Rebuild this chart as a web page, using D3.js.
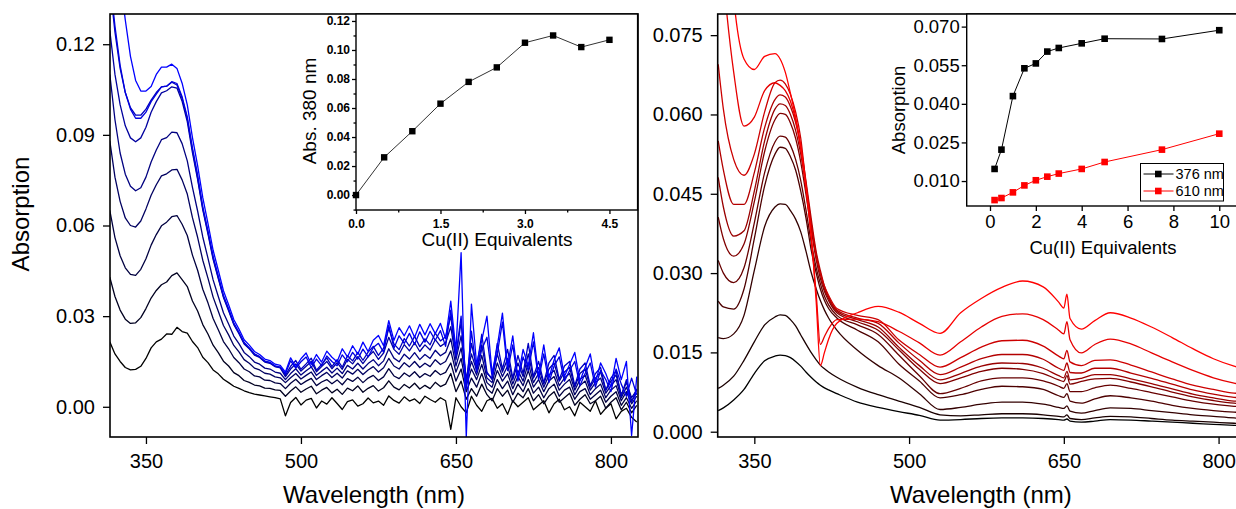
<!DOCTYPE html>
<html>
<head>
<meta charset="utf-8">
<script src="https://cdn.jsdelivr.net/npm/d3@7"></script>
<style>
  body { margin: 0; background: #fff; }
  svg { display: block; font-family: "Liberation Sans", Arial, sans-serif; }
</style>
</head>
<body>
<script>
// ---------- Left panel: spectra, 0.5 to 4.5 eq (values in 1e-3 absorbance) ----------
const nmLeft = [315,320,325,330,335,340,345,350,355,360,365,370,375,380,385,390,395,400,405,410,415,420,425,430,435,440,445,450,455,460,465,470,475,480,
  485,490,495,500,505,510,515,520,525,530,535,540,545,550,555,560,565,570,575,580,585,590,595,600,605,610,615,620,625,630,635,640,645,650,655,660,
  665,670,675,680,685,690,695,700,705,710,715,720,725,730,735,740,745,750,755,760,765,770,775,780,785,790,795,800,805,810,815,820,825];

const left05 = [21.5,17.5,15.0,13.0,12.2,12.4,13.4,16.0,19.5,21.5,22.4,24.1,24.0,26.3,24.9,24.4,21.6,19.6,16.4,14.6,12.2,10.9,9.1,8.0,6.8,6.1,5.3,4.7,4.2,3.9,3.6,3.3,3.0,2.6,
  -3.0,1.4,3.1,0.6,2.2,2.8,-0.4,1.9,0.9,3.0, 1.1,-0.9,1.7,2.3,0.2,1.0,2.9,1.3,1.9,0.5, 3.6,2.1,1.2,3.3,1.9,2.6,1.1,3.5,2.4,1.5,
  3.0,2.0,-7.5,3.0,0.0,-2.0,3.5,0.5,-1.5,2.0, 2.8,-0.5,1.0,-2.5,2.0,0.0,1.5,3.0,-1.0,0.5, 2.0,-2.0,1.0,2.5,-1.0,0.0,-3.0,1.5,0.0,-1.5,
  2.0,-2.5,-0.5,1.0,-4.0,-1.5,-0.5,-3.5,-5.0];
const left10 = [42.9,36.5,32.0,29.0,27.6,27.8,29.5,32.5,36.0,38.5,40.4,41.3,43.4,44.3,42.1,39.8,35.0,31.7,27.2,24.1,20.4,17.9,15.1,13.5,11.3,10.3,8.7,8.1,7.2,6.9,6.2,6.1,5.6,5.4,
  3.5,5.2,6.6,4.8,5.9,6.8,4.3,5.5,6.4,4.6, 5.8,4.1,6.2,5.3,6.9,4.8,6.1,7.0,5.2,6.3, 8.6,6.5,5.6,7.4,6.2,7.8,5.9,7.1,6.0,8.1,
  6.7,7.5,11.0,5.0,8.5,2.5,6.0,3.5,7.5,4.0, 2.0,6.0,3.5,5.5,1.5,4.5,3.0,6.0,2.0,4.0, 1.0,3.5,5.0,1.5,3.0,4.5,0.5,2.5,4.0,1.0,
  2.0,3.5,-0.5,1.5,3.0,-1.0,1.5,-2.0,0.5];
const left15 = [65.0,56.0,50.0,46.0,43.8,43.5,45.5,49.0,53.5,57.0,59.9,61.1,62.9,63.3,60.4,56.7,50.2,45.2,38.9,34.4,29.2,25.5,21.6,19.2,16.3,14.6,12.5,11.6,10.2,9.9,8.8,8.7,7.9,7.7,
  6.0,7.8,9.1,7.4,8.5,9.4,7.0,8.2,9.0,7.6, 8.9,7.3,9.3,8.4,9.8,8.0,9.5,10.4,8.7,9.9, 12.6,10.2,9.3,11.2,10.0,11.6,9.7,11.0,10.1,12.0,
  10.6,11.4,14.5,8.5,12.5,5.0,9.5,6.5,11.0,6.0, 4.5,9.0,6.0,8.5,4.0,7.5,5.0,9.0,4.5,6.5, 3.0,6.0,7.5,3.5,5.5,6.5,2.5,5.0,6.0,2.5,
  4.0,5.5,1.5,3.5,5.0,0.5,3.0,-0.5,2.0];
const left20 = [88.0,76.0,68.0,62.5,60.0,59.5,61.5,65.5,70.0,73.5,76.4,77.1,78.4,78.6,75.1,70.4,62.6,56.1,48.5,42.6,36.3,31.6,26.9,23.8,20.3,18.2,15.6,14.4,12.8,12.2,11.1,10.8,9.9,9.6,
  8.0,9.6,11.0,9.2,10.4,11.5,9.0,10.3,11.4,9.7, 11.1,9.5,11.9,10.8,12.4,10.7,12.2,13.3,11.5,12.9, 16.0,13.5,12.5,14.6,13.2,15.0,13.0,14.4,13.3,15.6,
  14.0,15.0,18.5,11.5,16.0,7.0,12.5,9.0,14.0,8.0, 6.5,12.0,8.5,11.0,6.0,10.0,7.0,12.0,6.5,9.0, 5.0,8.5,10.0,5.5,7.5,9.0,4.0,7.0,8.5,4.0,
  6.0,7.5,3.0,5.5,7.0,2.0,5.0,1.0,3.5];
const left25 = [110,95,84,77,73,71.5,72.5,76.0,81.0,85.0,88.4,89.1,90.9,90.7,87.1,81.4,72.6,64.8,56.2,49.2,42.0,36.5,31.1,27.4,23.4,20.9,18.0,16.6,14.8,14.1,12.8,12.5,11.5,11.1,
  9.0,11.0,12.6,10.5,11.9,13.2,10.4,11.8,13.1,11.2, 12.8,11.0,13.7,12.5,14.4,12.5,14.3,15.6,13.6,15.2, 19.2,16.1,14.9,17.4,15.8,17.9,15.6,17.3,16.0,18.7,
  16.9,18.0,22.5,13.5,19.5,8.5,15.0,10.5,17.0,9.5, 8.0,14.5,10.0,13.5,7.5,12.0,8.5,14.5,8.0,11.0, 6.5,10.5,12.0,7.0,9.5,11.0,5.5,9.0,10.5,5.5,
  8.0,9.5,4.5,7.0,9.0,3.0,6.5,2.0,4.5];
const left30 = [124.5,110,100,93,89,87.7,89,92.5,97.5,101,103.9,104.6,105.9,105.5,101.1,94.4,84.1,75.3,65.2,57.2,48.8,42.4,36.2,31.8,27.2,24.2,20.8,19.2,17.1,16.3,14.8,14.4,13.3,12.9,
  10.0,12.5,14.2,11.8,13.4,15.0,11.6,13.3,15.0,12.6, 14.6,12.4,15.7,14.2,16.6,14.3,16.6,18.3,15.7,17.8, 23.0,19.0,17.4,20.6,18.5,21.2,18.3,20.5,18.8,22.2,
  20.0,21.2,26.5,15.5,23.5,9.0,17.5,12.0,20.5,11.0, 9.5,17.5,11.5,16.0,9.0,14.5,10.0,17.5,9.5,13.0, 7.5,12.5,14.5,8.5,11.5,13.0,6.5,11.0,12.5,6.5,
  9.5,11.5,5.5,8.5,10.5,4.0,8.0,3.0,5.5];
const left35 = [140,124,112,104,99,96.5,96.5,98.5,101.5,104,105.9,106.1,107.4,106.5,102.1,95.4,85.1,75.8,65.7,57.7,49.3,42.8,36.5,32.1,27.5,24.5,21.1,19.4,17.4,16.5,15.0,14.6,13.4,13.0,
  10.5,13.4,15.3,12.4,14.2,16.1,12.1,14.0,16.2,13.3, 15.6,13.1,16.9,15.2,18.0,15.4,18.1,20.0,17.0,19.4, 26.0,20.8,18.9,22.6,20.1,23.3,19.9,22.5,20.5,24.4,
  21.8,23.2,30.0,16.5,28.0,8.5,21.0,13.0,24.0,11.5, 9.0,21.0,12.5,19.0,9.5,17.0,11.0,21.0,10.0,15.0, 8.0,14.5,17.0,9.0,13.5,15.0,7.0,12.5,14.5,7.0,
  11.0,13.0,5.5,9.5,12.0,3.5,9.0,1.5,6.0];
const left40 = [142,126,113,104,98.5,95.5,95.5,97.5,101,103.5,105.9,106.1,107.6,107,102.6,95.9,85.6,76.8,66.2,58.2,49.8,43.2,36.8,32.4,27.7,24.6,21.3,19.5,17.5,16.6,15.1,14.7,13.5,13.1,
  11.0,15.2,12.8,14.9,16.5,13.0,15.8,13.6,16.8,15.0, 13.6,17.2,14.9,18.0,15.8,19.1,16.5,19.6,21.0,18.0, 27.0,19.4,23.5,21.0,24.3,20.6,24.8,21.4,25.0,22.0,
  25.2,20.0,32.0,17.0,30.0,6.0,25.0,11.5,19.0,23.0, 10.0,17.5,28.0,12.0,20.5,8.5,16.5,12.0,21.5,9.0, 17.5,8.0,13.5,16.5,8.5,12.0,15.0,7.0,11.0,14.5,
  6.5,12.0,9.0,5.0,12.5,7.5,3.5,9.5,4.0];
const left45 = [180,160,142,128,116,108,104.5,104.5,106,110,112.4,112.4,113.4,112,107.1,99.9,89.1,79.8,69.2,60.7,51.8,45.2,38.4,33.8,28.9,25.7,22.2,20.4,18.3,17.3,15.8,15.3,14.1,13.7,
  11.5,16.2,13.2,15.9,17.8,14.0,17.3,14.8,18.4,16.4, 14.9,19.2,16.5,20.2,17.4,21.4,18.3,22.0,23.6,20.2, 28.5,22.0,26.2,23.5,26.8,23.0,27.3,23.8,27.5,24.2,
  27.6,22.5,35.0,18.5,51.0,-10.0,34.0,14.0,22.0,30.0, 11.0,20.0,31.0,13.5,23.5,9.5,19.0,13.5,24.5,10.0, 20.5,9.5,15.5,19.5,10.0,14.0,18.0,8.5,13.0,17.5,
  8.0,14.5,11.0,6.5,16.0,9.0,15.0,-9.5,10.0];

const leftSpectra = [left05, left10, left15, left20, left25, left30, left35, left40, left45];
const leftColors = ['#000000','#000020','#000040','#000060','#000080','#00009f','#0000bf','#0000df','#0000ff'];

// Left inset: absorbance at 380 nm
const eqLeft = [0, 0.5, 1, 1.5, 2, 2.5, 3, 3.5, 4, 4.5];
const abs380 = [0.000, 0.026, 0.044, 0.063, 0.078, 0.088, 0.105, 0.110, 0.102, 0.107];

// ---------- Right panel: spectra (values in 1e-3 absorbance) ----------
const nmRight = [315,320,330,340,350,360,370,375,380,385,390,395,400,405,410,414,418,422,430,450,
  470,490,510,530,550,570,590,610,630,645,650,653,656,667,680,695,715,735,755,775,795,815,826];

const right01 = [4.0,4.5,6.0,8.0,11.0,13.4,14.3,14.5,14.4,14.0,13.3,12.4,11.3,10.3,9.4,8.8,8.3,7.9,7.2,5.6,
  4.6,3.8,3.1,2.2,2.3,2.5,2.6,2.6,2.5,2.3,2.2,2.4,2.0,1.8,2.0,2.3,2.2,2.0,1.8,1.6,1.4,1.2,1.1];
const right02 = [8.2,8.8,10.5,13.5,17.0,20.2,21.7,22.1,22.0,21.2,20.0,18.3,16.6,15.0,13.6,12.6,11.9,11.3,10.3,8.4,
  7.0,5.8,4.6,3.2,3.0,3.2,3.4,3.4,3.2,2.9,2.8,3.2,2.5,2.3,2.6,2.9,2.8,2.5,2.2,2.0,1.8,1.6,1.5];
const right03 = [17.8,17.6,18.5,22.0,30.5,38.8,42.5,43.1,43.0,41.8,40.2,37.8,34.2,30.2,27.0,24.8,23.0,21.5,19.2,15.4,
  12.5,10.2,7.2,4.2,4.6,5.2,5.6,5.6,5.2,4.6,4.4,4.9,3.9,3.5,4.0,4.5,4.4,4.0,3.6,3.2,2.9,2.6,2.5];
const right04 = [24.7,23.6,23.2,27.0,36.5,46.5,52.5,53.8,53.6,52.0,49.5,45.5,40.5,34.5,30.0,27.0,24.8,23.3,21.5,19.2,
  17.0,12.8,9.6,6.4,7.0,8.0,8.6,8.5,8.0,6.8,6.5,7.2,5.8,5.4,6.2,6.8,6.4,5.8,5.0,4.4,4.0,3.7,3.6];
const right05 = [32.4,30.0,28.2,31.0,39.5,49.0,54.8,55.9,55.7,54.2,51.5,47.5,42.0,36.0,31.0,28.0,25.6,24.0,22.0,20.2,
  18.4,14.5,10.6,7.2,8.2,9.6,10.2,10.2,9.6,8.6,8.2,9.1,7.6,7.6,8.3,8.8,8.2,7.4,6.6,5.8,5.2,4.8,4.7];
const right06 = [40.6,36.5,33.2,35.5,43.5,53.0,59.0,60.2,60.0,58.4,55.5,51.0,45.0,38.5,32.5,29.0,26.5,24.8,22.5,20.8,
  19.2,15.5,11.8,9.1,10.2,11.4,12.0,11.8,11.0,9.8,9.5,10.6,9.0,9.5,10.0,10.1,9.4,8.5,7.5,6.6,5.9,5.4,5.3];
const right07 = [48.1,42.5,37.0,38.0,45.5,55.0,61.0,62.0,61.7,60.0,57.0,52.5,46.5,39.5,33.5,29.8,27.0,25.2,22.8,21.2,
  19.8,16.0,12.5,9.8,11.0,12.4,13.0,12.9,12.0,10.6,10.2,11.4,9.8,10.1,10.8,10.8,10.0,9.1,8.1,7.1,6.4,5.8,5.7];
const right08 = [55.0,49.5,43.0,43.0,49.0,57.5,62.8,63.7,63.3,61.5,58.5,54.0,47.5,40.5,34.0,30.5,27.5,25.5,23.0,21.5,
  20.5,16.8,13.5,10.8,12.2,13.8,14.6,14.6,13.7,12.0,11.6,13.0,11.2,11.1,12.0,12.0,11.1,10.1,9.0,7.9,7.1,6.5,6.4];
const right09 = [69.5,61.0,51.5,48.5,52.5,60.5,66.0,66.5,65.8,63.8,60.5,55.5,47.0,39.5,33.0,30.0,27.5,25.8,23.3,22.0,
  21.2,17.4,14.6,12.2,14.0,16.0,17.2,17.3,16.2,14.3,13.8,15.4,13.2,12.5,13.5,13.6,12.6,11.3,10.0,8.8,8.0,7.3,7.2];
const right10 = [98,86,68,57.8,59.5,64.5,66.0,65.5,64.5,62.5,59.0,53.5,46.0,37.0,26.0,16.5,18.0,19.5,21.2,21.3,
  20.8,19.0,16.8,14.5,17.0,19.8,21.8,22.3,21.2,19.2,18.5,20.8,17.4,14.9,16.5,17.5,16.6,14.9,13.2,11.6,10.2,9.2,8.8];
const right11 = [125,110,82,70.5,68.5,71.0,71.5,70.5,68.0,64.0,59.5,54.0,46.5,37.5,24.5,12.5,15.0,17.5,20.5,22.5,
  23.7,22.6,20.5,18.6,22.5,25.2,27.3,28.5,27.4,24.5,23.4,26.0,21.4,19.4,21.0,22.5,21.5,19.8,17.8,15.7,13.8,12.4,11.8];

const rightSpectra = [right01, right02, right03, right04, right05, right06, right07, right08, right09, right10, right11];
const rightColors = ['#000000','#1a0000','#330000','#4d0000','#660000','#800000','#990000','#b30000','#cc0000','#e60000','#ff0000'];

// Right inset: absorbance at 376 nm and 610 nm
const eqRight = [0.2, 0.5, 1, 1.5, 2, 2.5, 3, 4, 5, 7.5, 10];
const abs376 = [0.0147, 0.0222, 0.0430, 0.0538, 0.0557, 0.0603, 0.0617, 0.0635, 0.0653, 0.0652, 0.0686];
const abs610 = [0.0026, 0.0034, 0.0056, 0.0083, 0.0103, 0.0117, 0.0129, 0.0147, 0.0174, 0.0222, 0.0284];
const legendNames = ['376 nm', '610 nm'];
const legendColors = ['#000000', '#ff0000'];

// Tick labels
const leftYTicks = [0, 0.03, 0.06, 0.09, 0.12];
const rightYTicks = [0, 0.015, 0.03, 0.045, 0.06, 0.075];
const nmTicks = [350, 500, 650, 800];
const leftInsetY = [0, 0.02, 0.04, 0.06, 0.08, 0.10, 0.12];
const leftInsetYMinor = [-0.01, 0.01, 0.03, 0.05, 0.07, 0.09, 0.11];
const leftInsetX = [0, 1.5, 3, 4.5];
const leftInsetXMinor = [0.75, 2.25, 3.75];
const rightInsetY = [0.010, 0.025, 0.040, 0.055, 0.070];
const rightInsetX = [0, 2, 4, 6, 8, 10];

const svg = d3.select('body').append('svg')
  .attr('width', 1236)
  .attr('height', 509);

svg.append('rect').attr('width', 1236).attr('height', 509).attr('fill', '#fff');

const TOP = 14, BOTTOM = 437;

function styleAxis(sel, size, weight) {
  sel.attr('font-family', null).attr('font-size', null);
  sel.select('.domain').remove();
  sel.selectAll('line').attr('stroke', '#000').attr('stroke-width', 1.3);
  sel.selectAll('text').attr('fill', '#000').attr('font-size', size).attr('font-weight', weight || 'normal');
}

// Main spectra panel
function drawSpectra(cfg) {
  const x = d3.scaleLinear().domain(cfg.xDomain).range(cfg.xRange);
  const y = d3.scaleLinear().domain(cfg.yDomain).range([BOTTOM, TOP]);
  const g = svg.append('g');

  g.append('clipPath').attr('id', cfg.id)
    .append('rect')
    .attr('x', cfg.xRange[0]).attr('y', TOP)
    .attr('width', cfg.xRange[1] - cfg.xRange[0]).attr('height', BOTTOM - TOP);

  const line = d3.line()
    .x((d, i) => x(cfg.nm[i]))
    .y(d => y(d / 1000))
    .curve(cfg.curve);

  g.append('g').attr('clip-path', `url(#${cfg.id})`)
    .selectAll('path')
    .data(cfg.series)
    .join('path')
    .attr('d', line)
    .attr('fill', 'none')
    .attr('stroke', (d, i) => cfg.colors[i])
    .attr('stroke-width', 1.3)
    .attr('stroke-linejoin', 'round');

  const yAxis = d3.axisLeft(y).tickValues(cfg.yTicks).tickFormat(d3.format(cfg.yFormat))
    .tickSize(7).tickPadding(8);
  const ya = g.append('g').attr('transform', `translate(${cfg.xRange[0]},0)`).call(yAxis);
  styleAxis(ya, 20);

  const xAxis = d3.axisBottom(x).tickValues(nmTicks).tickFormat(d3.format('d'))
    .tickSize(7).tickPadding(10);
  const xa = g.append('g').attr('transform', `translate(0,${BOTTOM})`).call(xAxis);
  styleAxis(xa, 20);

  g.append('rect')
    .attr('x', cfg.xRange[0]).attr('y', TOP)
    .attr('width', cfg.xRange[1] - cfg.xRange[0]).attr('height', BOTTOM - TOP)
    .attr('fill', 'none').attr('stroke', '#000').attr('stroke-width', 1.6);

  g.append('text')
    .attr('x', (cfg.xRange[0] + Math.min(cfg.xRange[1], 1236)) / 2 + cfg.titleShift)
    .attr('y', 503)
    .attr('text-anchor', 'middle')
    .attr('font-size', 24)
    .text('Wavelength (nm)');

  return { x, y };
}

drawSpectra({
  id: 'clip-left',
  nm: nmLeft,
  series: leftSpectra,
  colors: leftColors,
  xDomain: [315.2, 826.2],
  xRange: [110, 638],
  yDomain: [-0.01, 0.13],
  yTicks: leftYTicks,
  yFormat: '.2f',
  curve: d3.curveLinear,
  titleShift: 0
});

drawSpectra({
  id: 'clip-right',
  nm: nmRight,
  series: rightSpectra,
  colors: rightColors,
  xDomain: [314.5, 826],
  xRange: [717.7, 1245.4],
  yDomain: [-0.001, 0.079],
  yTicks: rightYTicks,
  yFormat: '.3f',
  curve: d3.curveMonotoneX,
  titleShift: 4
});

svg.append('text')
  .attr('transform', 'translate(29,214) rotate(-90)')
  .attr('text-anchor', 'middle')
  .attr('font-size', 24)
  .text('Absorption');

// ---------- Left inset ----------
{
  const x = d3.scaleLinear().domain([0, 5]).range([356, 637.6]);
  const y = d3.scaleLinear().domain([-0.0103, 0.1248]).range([210, TOP]);
  const g = svg.append('g');

  g.append('rect').attr('x', 356).attr('y', TOP).attr('width', 281.6).attr('height', 210 - TOP)
    .attr('fill', '#fff').attr('stroke', '#000').attr('stroke-width', 1.4);

  const ya = g.append('g').attr('transform', 'translate(356,0)')
    .call(d3.axisLeft(y).tickValues(leftInsetY).tickFormat(d3.format('.2f')).tickSize(4).tickPadding(2));
  styleAxis(ya, 12, 'bold');
  const yam = g.append('g').attr('transform', 'translate(356,0)')
    .call(d3.axisLeft(y).tickValues(leftInsetYMinor).tickFormat('').tickSize(2.5));
  styleAxis(yam, 12);

  const xa = g.append('g').attr('transform', 'translate(0,210)')
    .call(d3.axisBottom(x).tickValues(leftInsetX).tickFormat(d3.format('.1f')).tickSize(4).tickPadding(5));
  styleAxis(xa, 12, 'bold');
  const xam = g.append('g').attr('transform', 'translate(0,210)')
    .call(d3.axisBottom(x).tickValues(leftInsetXMinor).tickFormat('').tickSize(2.5));
  styleAxis(xam, 12);

  const pts = eqLeft.map((e, i) => [e, abs380[i]]);
  g.append('path')
    .datum(pts)
    .attr('d', d3.line().x(d => x(d[0])).y(d => y(d[1])))
    .attr('fill', 'none').attr('stroke', '#333').attr('stroke-width', 1);
  g.selectAll('.pt').data(pts).join('rect')
    .attr('class', 'pt')
    .attr('x', d => x(d[0]) - 3.2).attr('y', d => y(d[1]) - 3.2)
    .attr('width', 6.4).attr('height', 6.4).attr('fill', '#000');

  g.append('text')
    .attr('transform', `translate(316,${(TOP + 210) / 2 - 1}) rotate(-90)`)
    .attr('text-anchor', 'middle').attr('font-size', 19)
    .text('Abs. 380 nm');
  g.append('text')
    .attr('x', 497).attr('y', 245.5)
    .attr('text-anchor', 'middle').attr('font-size', 19)
    .text('Cu(II) Equivalents');
}

// ---------- Right inset ----------
{
  const x = d3.scaleLinear().domain([-1.016, 11.14]).range([966.7, 1245.4]);
  const y = d3.scaleLinear().domain([0.0003, 0.0749]).range([206, TOP]);
  const g = svg.append('g');

  g.append('rect').attr('x', 966.7).attr('y', TOP).attr('width', 278.7).attr('height', 206 - TOP)
    .attr('fill', '#fff').attr('stroke', '#000').attr('stroke-width', 1.4);

  const ya = g.append('g').attr('transform', 'translate(966.7,0)')
    .call(d3.axisLeft(y).tickValues(rightInsetY).tickFormat(d3.format('.3f')).tickSize(5).tickPadding(2));
  styleAxis(ya, 18.5);
  const xa = g.append('g').attr('transform', 'translate(0,206)')
    .call(d3.axisBottom(x).tickValues(rightInsetX).tickFormat(d3.format('d')).tickSize(5).tickPadding(4));
  styleAxis(xa, 18.5);

  const sets = [abs376, abs610];
  sets.forEach((vals, k) => {
    const pts = eqRight.map((e, i) => [e, vals[i]]);
    g.append('path')
      .datum(pts)
      .attr('d', d3.line().x(d => x(d[0])).y(d => y(d[1])))
      .attr('fill', 'none').attr('stroke', legendColors[k]).attr('stroke-width', 1);
    g.selectAll('.pt' + k).data(pts).join('rect')
      .attr('class', 'pt' + k)
      .attr('x', d => x(d[0]) - 3.3).attr('y', d => y(d[1]) - 3.3)
      .attr('width', 6.6).attr('height', 6.6).attr('fill', legendColors[k]);
  });

  // legend
  const lg = g.append('g').attr('transform', 'translate(1140.5,163.5)');
  lg.append('rect').attr('width', 83).attr('height', 37.5)
    .attr('fill', '#fff').attr('stroke', '#000').attr('stroke-width', 1);
  legendNames.forEach((name, k) => {
    const cy = 10.5 + k * 17;
    lg.append('line').attr('x1', 3).attr('x2', 33).attr('y1', cy).attr('y2', cy)
      .attr('stroke', legendColors[k]).attr('stroke-width', 1);
    lg.append('rect').attr('x', 14.5).attr('y', cy - 3.3).attr('width', 6.6).attr('height', 6.6)
      .attr('fill', legendColors[k]);
    lg.append('text').attr('x', 35).attr('y', cy + 5).attr('font-size', 14.5).text(name);
  });

  g.append('text')
    .attr('transform', `translate(905,110) rotate(-90)`)
    .attr('text-anchor', 'middle').attr('font-size', 18.5)
    .text('Absorption');
  g.append('text')
    .attr('x', 1103).attr('y', 254)
    .attr('text-anchor', 'middle').attr('font-size', 18.5)
    .text('Cu(II) Equivalents');
}
</script>
</body>
</html>
